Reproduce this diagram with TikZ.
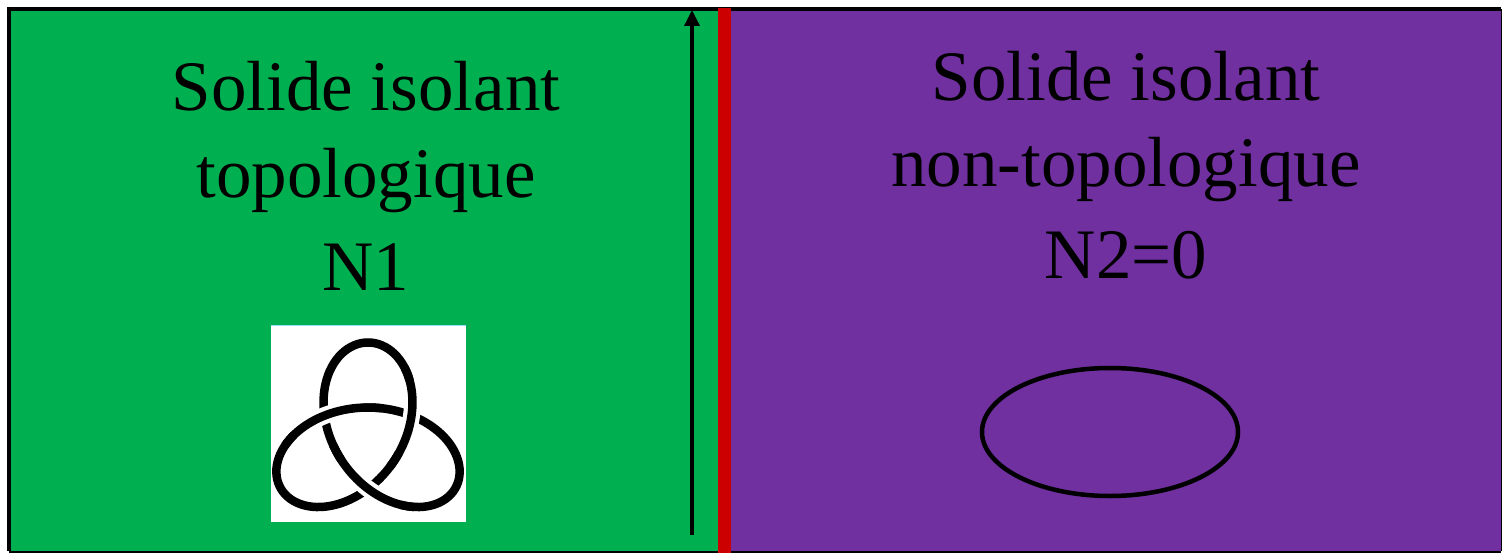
\documentclass[tikz,border=0pt]{standalone}
\usepackage{fontspec}
\setmainfont{Liberation Serif}
\usetikzlibrary{arrows.meta,shapes.geometric}
\definecolor{gr}{RGB}{0,176,80}
\definecolor{pu}{RGB}{112,48,160}
\definecolor{rd}{RGB}{204,0,0}
\tikzset{
  lbl/.style={anchor=base, inner sep=0pt, font=\fontsize{71}{84}\selectfont},
  knotline/.style={line width=8.5pt, black},
  knothalo/.style={line width=17pt, white},
}
\begin{document}
\begin{tikzpicture}[x=1pt,y=-1pt]
\useasboundingbox (0,0) rectangle (1503,553);
% panels
\fill[gr] (10,9) rectangle (719,551);
\fill[pu] (731,9) rectangle (1501,551);
\draw[line width=3.5pt] (9,550.5) -- (9,9) -- (1501,9);
\draw[line width=2pt] (9,551.5) -- (1501,551.5);
\draw[line width=1pt] (1501,9) -- (1501,551);
% red interface
\fill[rd] (718,8) rectangle (731,553);
% arrow
\coordinate (abot) at (692,535);
\coordinate (atop) at (692,10);
\draw[line width=3.5pt, -{Triangle[length=16pt,width=15pt]}] (abot) -- (atop);
% texts
\node[lbl] (l1) at (366,111) {Solide isolant};
\node[lbl] (l2) at (366,198) {topologique};
\node[lbl] (l3) at (366,290) {N1};
\node[lbl] (r1) at (1126,101) {Solide isolant};
\node[lbl] (r2) at (1126,187) {non-topologique};
\node[lbl] (r3) at (1126,278) {N2=0};
% knot picture
\fill[white] (271,325) rectangle (466,522);
\draw[cyan!40, line width=1.2pt] (271,325.5) -- (466,325.5);
\begin{scope}[shift={(368,440)}, xscale=33.5, yscale=-32.5]
  \draw[knotline] plot[smooth, samples=181, domain=0:360, variable=\t]
    ({sin(\t)+2*sin(2*\t)}, {2*cos(2*\t)-cos(\t)});
  \foreach \c in {104.48,224.48,344.48} {
    \draw[knothalo] plot[smooth, samples=21, domain=\c-14:\c+14, variable=\t]
      ({sin(\t)+2*sin(2*\t)}, {2*cos(2*\t)-cos(\t)});
    \draw[knotline] plot[smooth, samples=31, domain=\c-20:\c+20, variable=\t]
      ({sin(\t)+2*sin(2*\t)}, {2*cos(2*\t)-cos(\t)});
  }
\end{scope}
% trivial loop
\node[draw, line width=4.5pt, ellipse, minimum width=256pt, minimum height=128pt, inner sep=0pt] (loop) at (1110,432) {};
\end{tikzpicture}
\end{document}
